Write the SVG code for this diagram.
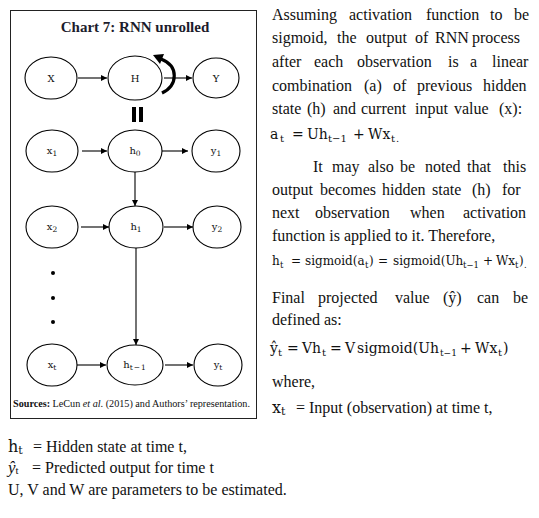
<svg xmlns="http://www.w3.org/2000/svg" width="539" height="518" viewBox="0 0 539 518">
<style>
.node ellipse{fill:#fff;stroke:#000;stroke-width:1.1}
.lbl{font-family:"DejaVu Serif",serif;font-size:10px;fill:#111;text-anchor:middle}
.sub{font-size:7.5px}
.conn line{stroke:#000;stroke-width:1.1}
.body{font-family:"Liberation Serif",serif;font-size:16px;fill:#111}
.m{font-family:"DejaVu Serif",serif}
.eq{font-family:"DejaVu Serif",serif;fill:#111}
</style>
<defs>
<marker id="ah" viewBox="0 0 10 10" refX="10" refY="5" markerWidth="6" markerHeight="6" orient="auto" markerUnits="userSpaceOnUse"><path d="M0,0 L10,5 L0,10 z" fill="#000"/></marker>
</defs>
<rect x="10.5" y="10.5" width="246" height="408" fill="#fff" stroke="#222" stroke-width="1"/>
<text x="135" y="32" font-family="Liberation Serif, serif" font-size="15" font-weight="bold" fill="#1c1c2c" text-anchor="middle">Chart 7: RNN unrolled</text>

<g id="connectors" class="conn">
<line x1="78" y1="78" x2="107" y2="78" marker-end="url(#ah)"/>
<line x1="164" y1="78" x2="192" y2="78" marker-end="url(#ah)"/>
<line x1="82" y1="151" x2="107" y2="151" marker-end="url(#ah)"/>
<line x1="162" y1="151" x2="188" y2="151" marker-end="url(#ah)"/>
<line x1="81" y1="227" x2="109" y2="227" marker-end="url(#ah)"/>
<line x1="164" y1="227" x2="193" y2="227" marker-end="url(#ah)"/>
<line x1="77" y1="365" x2="106" y2="365" marker-end="url(#ah)"/>
<line x1="165" y1="365" x2="193" y2="365" marker-end="url(#ah)"/>
<line x1="135" y1="172" x2="135" y2="206" marker-end="url(#ah)"/>
<line x1="136" y1="248" x2="136" y2="345" marker-end="url(#ah)"/>
<path d="M162,93 C178,85 179,66 161,59" fill="none" stroke="#000" stroke-width="3.2"/>
<path d="M153,55 L164,54 L160,64 z" fill="#000"/>
</g>

<g id="equals"><rect x="132" y="107" width="4" height="15" fill="#000"/><rect x="139" y="107" width="4" height="15" fill="#000"/></g>

<g id="node-X" class="node"><ellipse cx="51" cy="78" rx="26" ry="21"/><text class="lbl" x="51" y="82">X</text></g>
<g id="node-H" class="node"><ellipse cx="135" cy="78" rx="27" ry="22"/><text class="lbl" x="135" y="82">H</text></g>
<g id="node-Y" class="node"><ellipse cx="216" cy="78" rx="23" ry="20"/><text class="lbl" x="216" y="82">Y</text></g>

<g id="node-x1" class="node"><ellipse cx="52" cy="151" rx="26" ry="21"/><text class="lbl" x="52" y="154">x<tspan class="sub" dy="2">1</tspan></text></g>
<g id="node-h0" class="node"><ellipse cx="135" cy="151" rx="27" ry="21"/><text class="lbl" x="135" y="154">h<tspan class="sub" dy="2">0</tspan></text></g>
<g id="node-y1" class="node"><ellipse cx="216" cy="151" rx="24" ry="21"/><text class="lbl" x="216" y="154">y<tspan class="sub" dy="2">1</tspan></text></g>

<g id="node-x2" class="node"><ellipse cx="52" cy="227" rx="26" ry="21"/><text class="lbl" x="52" y="230">x<tspan class="sub" dy="2">2</tspan></text></g>
<g id="node-h1" class="node"><ellipse cx="136" cy="227" rx="27" ry="21"/><text class="lbl" x="136" y="230">h<tspan class="sub" dy="2">1</tspan></text></g>
<g id="node-y2" class="node"><ellipse cx="217" cy="227" rx="24" ry="21"/><text class="lbl" x="217" y="230">y<tspan class="sub" dy="2">2</tspan></text></g>

<g id="dots"><circle cx="53" cy="273" r="2" fill="#000"/><circle cx="53" cy="298" r="2" fill="#000"/><circle cx="53" cy="322" r="2" fill="#000"/></g>

<g id="node-xt" class="node"><ellipse cx="52" cy="365" rx="25" ry="21"/><text class="lbl" x="52" y="368">x<tspan class="sub" dy="2">t</tspan></text></g>
<g id="node-ht1" class="node"><ellipse cx="135" cy="365" rx="28" ry="20"/><text class="lbl" x="135" y="368">h<tspan class="sub" dy="2" letter-spacing="1">t−1</tspan></text></g>
<g id="node-yt" class="node"><ellipse cx="218" cy="365" rx="24" ry="21"/><text class="lbl" x="218" y="368">y<tspan class="sub" dy="2">t</tspan></text></g>

<text x="13" y="407" font-family="Liberation Serif, serif" font-size="10" fill="#111" textLength="237" lengthAdjust="spacingAndGlyphs"><tspan font-weight="bold">Sources:</tspan> LeCun <tspan font-style="italic">et al</tspan>. (2015) and Authors’ representation.</text>

<g id="paragraph">
<text class="body" y="20"><tspan x="272">Assuming</tspan><tspan x="349">activation</tspan><tspan x="426">function</tspan><tspan x="490">to</tspan><tspan x="514">be</tspan></text>
<text class="body" y="43"><tspan x="272">sigmoid,</tspan><tspan x="337">the</tspan><tspan x="366">output</tspan><tspan x="415">of</tspan><tspan x="435">RNN</tspan><tspan x="472">process</tspan></text>
<text class="body" y="67"><tspan x="272">after</tspan><tspan x="314">each</tspan><tspan x="357">observation</tspan><tspan x="448">is</tspan><tspan x="470">a</tspan><tspan x="492">linear</tspan></text>
<text class="body" y="91"><tspan x="272">combination</tspan><tspan x="364">(a)</tspan><tspan x="393">of</tspan><tspan x="417">previous</tspan><tspan x="483">hidden</tspan></text>
<text class="body" y="114"><tspan x="272">state</tspan><tspan x="307">(h)</tspan><tspan x="333">and</tspan><tspan x="361">current</tspan><tspan x="415">input</tspan><tspan x="454">value</tspan><tspan x="499">(x):</tspan></text>

<text class="eq" font-size="14" y="139"><tspan x="270">a</tspan><tspan x="280" y="142" font-size="10">t</tspan><tspan x="292" y="139">=</tspan><tspan x="307">Uh</tspan><tspan x="328" y="142" font-size="10">t−1</tspan><tspan x="353" y="139">+</tspan><tspan x="368">Wx</tspan><tspan x="391" y="142" font-size="10">t</tspan><tspan x="396" y="142" font-size="10">.</tspan></text>

<text class="body" y="172"><tspan x="313">It</tspan><tspan x="332">may</tspan><tspan x="368">also</tspan><tspan x="400">be</tspan><tspan x="425">noted</tspan><tspan x="467">that</tspan><tspan x="503">this</tspan></text>
<text class="body" y="195"><tspan x="272">output</tspan><tspan x="320">becomes</tspan><tspan x="382">hidden</tspan><tspan x="432">state</tspan><tspan x="472">(h)</tspan><tspan x="502">for</tspan></text>
<text class="body" y="218"><tspan x="272">next</tspan><tspan x="315">observation</tspan><tspan x="410">when</tspan><tspan x="463">activation</tspan></text>
<text class="body" y="241" x="272">function is applied to it. Therefore,</text>

<text class="eq" font-size="12" y="265"><tspan x="272">h</tspan><tspan x="280" y="268" font-size="8.5">t</tspan><tspan x="291" y="265">=</tspan><tspan x="305">sigmoid(a</tspan><tspan x="365" y="268" font-size="8.5">t</tspan><tspan x="369" y="265">)</tspan><tspan x="378">=</tspan><tspan x="393">sigmoid(Uh</tspan><tspan x="463" y="268" font-size="8.5">t−1</tspan><tspan x="483" y="265">+</tspan><tspan x="496">Wx</tspan><tspan x="515" y="268" font-size="8.5">t</tspan><tspan x="519" y="265">)</tspan><tspan x="524" y="268" font-size="8.5">.</tspan></text>

<text class="body" y="303"><tspan x="272">Final</tspan><tspan x="318">projected</tspan><tspan x="395">value</tspan><tspan x="443">(ŷ)</tspan><tspan x="477">can</tspan><tspan x="513">be</tspan></text>
<text class="body" y="325" x="272">defined as:</text>

<text class="eq" font-size="14" y="353"><tspan x="270">ŷ</tspan><tspan x="278" y="356" font-size="10">t</tspan><tspan x="287" y="353">=</tspan><tspan x="302">Vh</tspan><tspan x="322" y="356" font-size="10">t</tspan><tspan x="330" y="353">=</tspan><tspan x="345">V</tspan><tspan x="357">sigmoid(Uh</tspan><tspan x="440" y="356" font-size="9">t−1</tspan><tspan x="460" y="353">+</tspan><tspan x="475">Wx</tspan><tspan x="498" y="356" font-size="10">t</tspan><tspan x="503" y="353">)</tspan></text>

<text class="body" y="387" x="272">where,</text>
<text class="body" y="413"><tspan x="272" class="m" font-size="16">x</tspan><tspan class="m" font-size="11" dy="2">t</tspan><tspan x="296" y="413">= Input (observation) at time t,</tspan></text>

<text class="body" y="452"><tspan x="8" class="m" font-size="16">h</tspan><tspan class="m" font-size="11" dy="2">t</tspan><tspan x="33" y="452">= Hidden state at time t,</tspan></text>
<text class="body" y="473"><tspan x="8" font-size="17" font-style="italic">ŷ</tspan><tspan font-size="11" dy="1">t</tspan><tspan x="32" y="473">= Predicted output for time t</tspan></text>
<text class="body" y="495" x="8" font-size="16.5">U, V and W are parameters to be estimated.</text>
</g>
</svg>
